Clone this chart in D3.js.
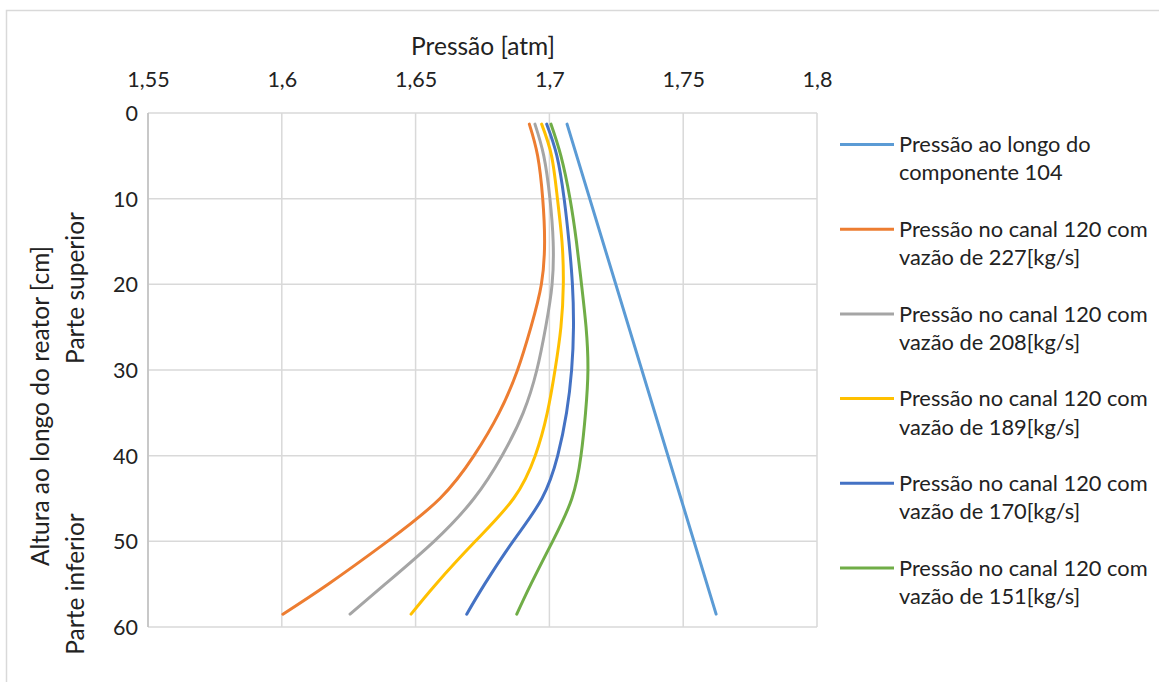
<!DOCTYPE html>
<html><head><meta charset="utf-8">
<script src="https://cdn.jsdelivr.net/npm/d3@7"></script>
<style>body{margin:0;background:#fff;} text{font-family:Lato,"Open Sans",sans-serif;}</style>
</head><body>
<svg id="c" width="1159" height="682"></svg>
<script>
const heights = [1.3, 5, 10, 15, 20, 25, 30, 35, 40, 45, 50, 55, 58.5];
const comp104Heights = [1.3, 58.5];
const comp104 = [1.7066, 1.7623];
const q227 = [1.6925, 1.6956, 1.6975, 1.6982, 1.6970, 1.6931, 1.6881, 1.6812, 1.6718, 1.6591, 1.6395, 1.6173, 1.6004];
const q208 = [1.6946, 1.6979, 1.7002, 1.7014, 1.7010, 1.6986, 1.6953, 1.6902, 1.6823, 1.6718, 1.6569, 1.6386, 1.6255];
const q189 = [1.6971, 1.7008, 1.7030, 1.7047, 1.7052, 1.7043, 1.7021, 1.6992, 1.6947, 1.6866, 1.6723, 1.6576, 1.6483];
const q170 = [1.6990, 1.7028, 1.7055, 1.7073, 1.7086, 1.7090, 1.7083, 1.7064, 1.7031, 1.6972, 1.6864, 1.6758, 1.6691];
const q151 = [1.7006, 1.7043, 1.7077, 1.7101, 1.7120, 1.7137, 1.7144, 1.7135, 1.7118, 1.7084, 1.7012, 1.6931, 1.6878];
const xTicks = [1.55, 1.6, 1.65, 1.7, 1.75, 1.8];
const yTicks = [0, 10, 20, 30, 40, 50, 60];
const seriesNames = [
  ["Pressão ao longo do", "componente 104"],
  ["Pressão no canal 120 com", "vazão de 227[kg/s]"],
  ["Pressão no canal 120 com", "vazão de 208[kg/s]"],
  ["Pressão no canal 120 com", "vazão de 189[kg/s]"],
  ["Pressão no canal 120 com", "vazão de 170[kg/s]"],
  ["Pressão no canal 120 com", "vazão de 151[kg/s]"]
];
const colors = ["#5B9BD5", "#ED7D31", "#A5A5A5", "#FFC000", "#4472C4", "#70AD47"];

const series = [
  {h: comp104Heights, v: comp104},
  {h: heights, v: q227},
  {h: heights, v: q208},
  {h: heights, v: q189},
  {h: heights, v: q170},
  {h: heights, v: q151}
];

const svg = d3.select("#c");
const L = 148, R = 817, T = 113, B = 627;
const x = d3.scaleLinear().domain([1.55, 1.8]).range([L, R]);
const y = d3.scaleLinear().domain([0, 60]).range([T, B]);
const fmt = d => String(d).replace(".", ",");
const txt = "#222";
const FONT = "Lato, 'Open Sans', sans-serif";

// chart frame
svg.append("rect").attr("x", 6.5).attr("y", 10.5).attr("width", 1170).attr("height", 700)
  .attr("fill", "none").attr("stroke", "#D9D9D9").attr("stroke-width", 1.5);

// gridlines
svg.append("g").selectAll("line").data(xTicks).join("line")
  .attr("x1", d => x(d)).attr("x2", d => x(d)).attr("y1", T).attr("y2", B)
  .attr("stroke", "#D9D9D9").attr("stroke-width", 1.5);
svg.append("g").selectAll("line").data(yTicks).join("line")
  .attr("x1", L).attr("x2", R).attr("y1", d => y(d)).attr("y2", d => y(d))
  .attr("stroke", "#D9D9D9").attr("stroke-width", 1.5);

// axes via d3
const xAxis = svg.append("g").attr("transform", `translate(0,${T})`)
  .call(d3.axisTop(x).tickValues(xTicks).tickFormat(fmt).tickSize(0));
const yAxis = svg.append("g").attr("transform", `translate(${L},0)`)
  .call(d3.axisLeft(y).tickValues(yTicks).tickSize(0));
[xAxis, yAxis].forEach(a => {
  a.select(".domain").remove();
  a.selectAll("text").attr("font-size", 21.5).attr("fill", txt).style("font-family", FONT);
});
xAxis.selectAll("text").attr("dy", "0.35em").attr("y", -34);
yAxis.selectAll("text").attr("x", -10).attr("dy", "0.35em");
// left axis line
svg.append("line").attr("x1", L).attr("x2", L).attr("y1", T).attr("y2", B)
  .attr("stroke", "#BFBFBF").attr("stroke-width", 1.5);

// titles
svg.append("text").attr("x", 483).attr("y", 46).attr("dy", "0.35em").attr("text-anchor", "middle")
  .attr("font-size", 24.5).attr("fill", txt).text("Pressão [atm]");
svg.append("text").attr("transform", "translate(40,406) rotate(-90)").attr("dy", "0.35em")
  .attr("text-anchor", "middle").attr("font-size", 24.5).attr("fill", txt).text("Altura ao longo do reator [cm]");
svg.append("text").attr("transform", "translate(75,288) rotate(-90)").attr("dy", "0.35em")
  .attr("text-anchor", "middle").attr("font-size", 24.5).attr("fill", txt).text("Parte superior");
svg.append("text").attr("transform", "translate(75,584) rotate(-90)").attr("dy", "0.35em")
  .attr("text-anchor", "middle").attr("font-size", 24.5).attr("fill", txt).text("Parte inferior");

// lines
const line = d3.line().x(d => x(d[1])).y(d => y(d[0])).curve(d3.curveNatural);
svg.append("g").selectAll("path").data(series).join("path")
  .attr("d", s => line(s.h.map((h, i) => [h, s.v[i]])))
  .attr("fill", "none").attr("stroke", (s, i) => colors[i]).attr("stroke-width", 3)
  .attr("stroke-linecap", "round").attr("stroke-linejoin", "round");

// legend
const lg = svg.append("g").selectAll("g").data(seriesNames).join("g")
  .attr("transform", (d, i) => `translate(840,${144.5 + i * 84.7})`);
lg.append("line").attr("x1", 0).attr("x2", 54).attr("y1", 0).attr("y2", 0)
  .attr("stroke", (d, i) => colors[i]).attr("stroke-width", 3);
lg.append("text").attr("x", 59).attr("y", 0).attr("dy", "0.35em").attr("font-size", 21.8)
  .attr("fill", txt).text(d => d[0]);
lg.append("text").attr("x", 59).attr("y", 28.3).attr("dy", "0.35em").attr("font-size", 21.8)
  .attr("fill", txt).text(d => d[1]);
</script>
</body></html>
